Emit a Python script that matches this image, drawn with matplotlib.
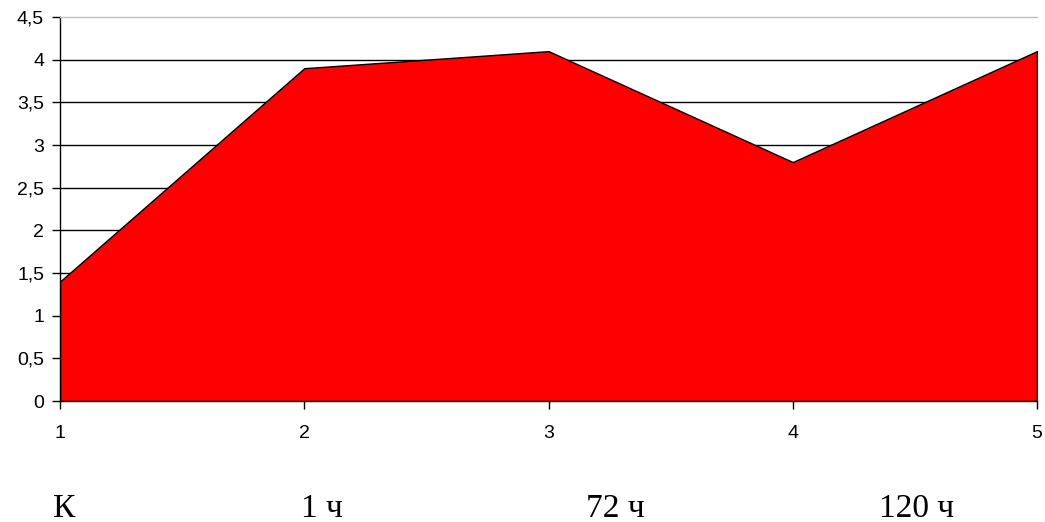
import matplotlib
matplotlib.use("Agg")
import matplotlib.pyplot as plt
from matplotlib.ticker import FuncFormatter

# Points along the horizontal axis and measured values
points = [1, 2, 3, 4, 5]
values = [1.4, 3.9, 4.1, 2.8, 4.1]
y_ticks = [0, 0.5, 1, 1.5, 2, 2.5, 3, 3.5, 4, 4.5]
group_labels = ["К", "1 ч", "72 ч", "120 ч"]
group_label_x = [64, 322, 615, 917]  # pixel centres of the caption row

fig = plt.figure(figsize=(10.45, 5.22), dpi=100)
ax = fig.add_axes([60 / 1045, 1 - 401 / 522, (1037 - 60) / 1045, (401 - 17) / 522])

ax.set_xlim(points[0], points[-1])
ax.set_ylim(0, 4.5)

# Horizontal gridlines
for t in y_ticks[1:-1]:
    ax.axhline(t, color="black", linewidth=1.0, zorder=1)

ax.fill_between(points, values, 0, facecolor="#ff0000", edgecolor="black",
                linewidth=1.0, zorder=2)
ax.plot([points[-1], points[-1]], [0, values[-1]], color="black", linewidth=1.0, zorder=3)

ax.set_yticks(y_ticks)
ax.yaxis.set_major_formatter(FuncFormatter(lambda v, _: f"{v:g}".replace(".", ",")))
ax.set_xticks(points)
ax.set_xticklabels([str(p) for p in points])

ax.tick_params(axis="both", direction="out", length=5.5, width=1, color="black",
               labelsize=14, labelfontfamily="Liberation Sans")
ax.tick_params(axis="x", pad=12)
ax.tick_params(axis="y", pad=6)

ax.spines["right"].set_visible(False)
ax.spines["top"].set_color("#c0c0c0")
ax.spines["top"].set_linewidth(1.0)
ax.spines["left"].set_linewidth(1.0)
ax.spines["bottom"].set_linewidth(1.0)

for lbl, px in zip(group_labels, group_label_x):
    fig.text(px / 1045, 1 - 517 / 522, lbl, ha="center", va="baseline",
             fontfamily="Liberation Serif", fontsize=24)

fig.savefig("out.png", dpi=100)
